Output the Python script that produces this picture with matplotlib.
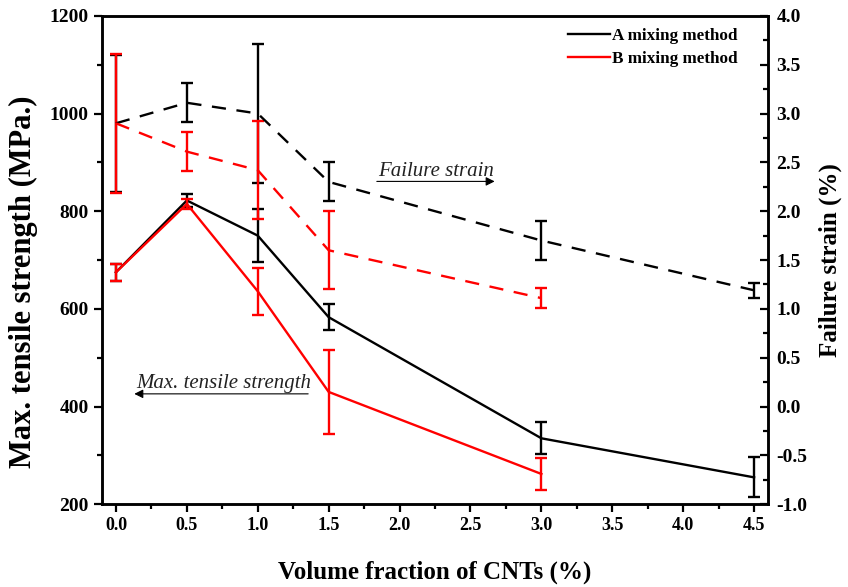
import numpy as np
import matplotlib.pyplot as plt
from matplotlib.ticker import MultipleLocator

plt.rcParams['font.family'] = ['Liberation Serif', 'DejaVu Serif']
plt.rcParams['axes.unicode_minus'] = False

# Tensile strength (MPa)
x_a = [0.0, 0.5, 1.0, 1.5, 3.0, 4.5]
str_a = [675, 822, 750, 583, 335, 255]
str_a_err = [17, 13, 55, 27, 33, 41]

x_b = [0.0, 0.5, 1.0, 1.5, 3.0]
str_b = [675, 815, 636, 430, 262]
str_b_err = [17, 10, 48, 86, 32]

# Failure strain (%)
fs_a = [2.9, 3.11, 3.0, 2.3, 1.7, 1.19]
fs_a_err = [0.7, 0.2, 0.71, 0.2, 0.2, 0.08]
fs_b = [2.9, 2.61, 2.42, 1.6, 1.11]
fs_b_err = [0.71, 0.2, 0.5, 0.4, 0.1]

fig = plt.figure(figsize=(8.48, 5.87), dpi=100)
ax = fig.add_axes([0.12, 0.141, 0.786, 0.832])
ax2 = ax.twinx()

cap = dict(capsize=4, capthick=1.7, elinewidth=1.7)
dash = (0, (6, 4.5))
ax.errorbar(x_a, str_a, yerr=str_a_err, color='black', lw=1.7, **cap, zorder=2)
ax.errorbar(x_b, str_b, yerr=str_b_err, color='red', lw=1.7, **cap, zorder=3)
ax2.errorbar(x_a, fs_a, yerr=fs_a_err, color='black', lw=1.7, ls=dash, **cap)
ax2.errorbar(x_b, fs_b, yerr=fs_b_err, color='red', lw=1.7, ls=dash, **cap)

ax.set_xlim(-0.1, 4.6)
ax.set_ylim(200, 1200)
ax2.set_ylim(-1.0, 4.0)

ax.xaxis.set_major_locator(MultipleLocator(0.5))
ax.xaxis.set_minor_locator(MultipleLocator(0.25))
ax.yaxis.set_major_locator(MultipleLocator(200))
ax.yaxis.set_minor_locator(MultipleLocator(100))
ax2.yaxis.set_major_locator(MultipleLocator(0.5))
ax2.yaxis.set_minor_locator(MultipleLocator(0.25))

ax.tick_params(axis='both', which='both', direction='out', width=1.6, top=False)
ax.tick_params(which='major', length=6)
ax.tick_params(axis='x', labelsize=13)
ax.tick_params(axis='y', labelsize=14)
ax.tick_params(which='minor', length=3.5)
ax2.tick_params(which='both', direction='in', width=1.6)
ax2.tick_params(which='major', length=6, labelsize=14, pad=6)
ax2.tick_params(which='minor', length=3.5)
for a in (ax, ax2):
    for lab in a.get_xticklabels() + a.get_yticklabels():
        lab.set_fontweight('bold')
    for s in a.spines.values():
        s.set_linewidth(1.8)

ax.set_xlabel('Volume fraction of CNTs (%)', fontsize=18, fontweight='bold', labelpad=19)
ax.set_ylabel('Max. tensile strength (MPa.)', fontsize=22, fontweight='bold')
ax.yaxis.set_label_coords(-0.096, 0.455)
ax2.set_ylabel('Failure strain (%)', fontsize=18, fontweight='bold', labelpad=8)

# Annotations with arrows
ax.annotate('', xy=(2.69, 861), xytext=(1.82, 861),
            arrowprops=dict(arrowstyle='-|>', color='black', lw=0.8, mutation_scale=13))
ax.text(1.85, 872, 'Failure strain', fontsize=15, style='italic', color='#222222')
ax.annotate('', xy=(0.11, 426), xytext=(1.375, 426),
            arrowprops=dict(arrowstyle='-|>', color='black', lw=0.8, mutation_scale=13))
ax.text(0.14, 437, 'Max. tensile strength', fontsize=15, style='italic', color='#222222')

# Legend
ax.plot([], [], color='black', lw=1.7, label='A mixing method')
ax.plot([], [], color='red', lw=1.7, label='B mixing method')
leg = ax.legend(loc='upper right', frameon=False, fontsize=12.3, handlelength=2.5,
                handletextpad=0.1, borderaxespad=0.3, labelspacing=0.4,
                bbox_to_anchor=(0.972, 1.0))
for t in leg.get_texts():
    t.set_fontweight('bold')

fig.savefig('out.png', dpi=100)
